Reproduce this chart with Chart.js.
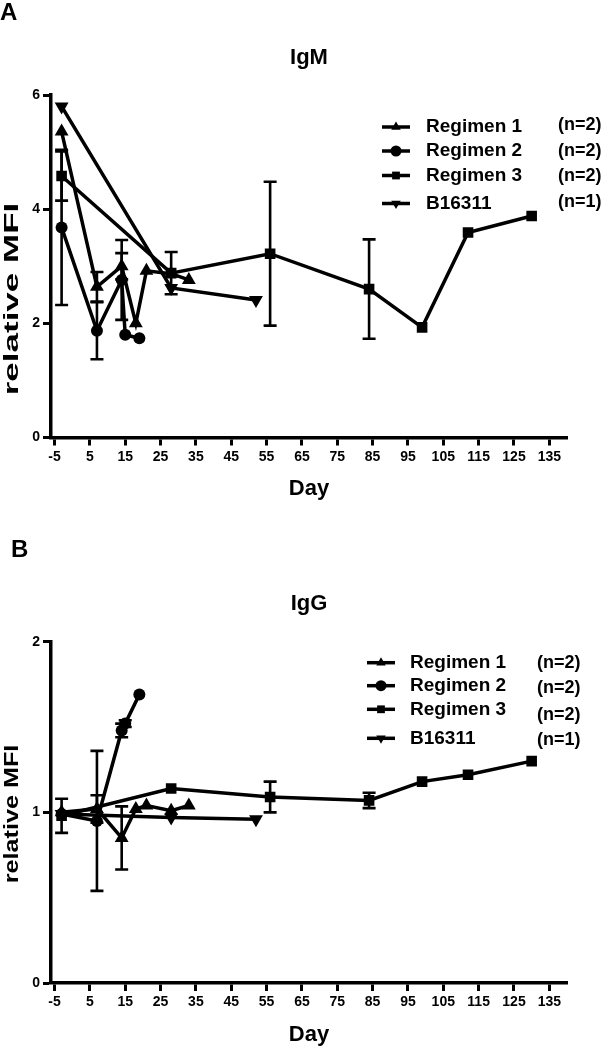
<!DOCTYPE html>
<html>
<head>
<meta charset="utf-8">
<script src="https://cdn.jsdelivr.net/npm/chart.js@4.4.0/dist/chart.umd.min.js"></script>
<style>
  body { margin: 0; background: #fff; }
  #page { position: relative; width: 604px; height: 1050px; font-family: "Liberation Sans", Arial, sans-serif; }
  .panel { position: absolute; font-weight: bold; font-size: 24px; line-height: 1; color: #000; }
  canvas { position: absolute; left: 0; }
</style>
</head>
<body>
<div id="page">
  <canvas id="igmChart" width="604" height="520" style="top:0"></canvas>
  <canvas id="iggChart" width="604" height="530" style="top:520px"></canvas>
  <div class="panel" style="left:0;top:0">A</div>
  <div class="panel" style="left:11px;top:537px">B</div>
</div>
<script>
const FONT = '"Liberation Sans", Arial, sans-serif';

// legend / axis labels
const groups = ['Regimen 1', 'Regimen 2', 'Regimen 3', 'B16311'];
const groupN = ['(n=2)', '(n=2)', '(n=2)', '(n=1)'];
const xTicks = [-5, 5, 15, 25, 35, 45, 55, 65, 75, 85, 95, 105, 115, 125, 135];

// IgM (panel A)
const igmR1Day = [-3, 7, 14, 18, 21, 28, 33];
const igmR1 = [5.36, 2.64, 3.0, 2.0, 2.92, 2.87, 2.76];
const igmR1Err = [0, 0.26, 0.23, 0, 0, 0, 0];
const igmR2Day = [-3, 7, 14, 15, 19];
const igmR2 = [3.68, 1.87, 2.76, 1.80, 1.74];
const igmR2Err = [1.36, 0.5, 0.7, 0, 0];
const igmR3Day = [-3, 28, 56, 84, 99, 112, 130];
const igmR3 = [4.58, 2.88, 3.22, 2.60, 1.93, 3.59, 3.88];
const igmR3Err = [0.43, 0.37, 1.26, 0.87, 0, 0, 0];
const igmB16Day = [-3, 28, 52];
const igmB16 = [5.80, 2.62, 2.41];

// IgG (panel B)
const iggR1Day = [-3, 7, 14, 18, 21, 28, 33];
const iggR1 = [1.0, 1.02, 0.85, 1.02, 1.04, 1.01, 1.04];
const iggR1Err = [0, 0.08, 0.185, 0, 0, 0, 0];
const iggR2Day = [-3, 7, 14, 15, 19];
const iggR2 = [0.99, 0.95, 1.48, 1.52, 1.69];
const iggR2Err = [0, 0.41, 0.04, 0.02, 0];
const iggR3Day = [-3, 28, 56, 84, 99, 112, 130];
const iggR3 = [0.98, 1.14, 1.09, 1.07, 1.18, 1.22, 1.30];
const iggR3Err = [0.1, 0, 0.09, 0.045, 0, 0, 0];
const iggB16Day = [-3, 28, 52];
const iggB16 = [0.99, 0.97, 0.96];

const toPoints = (xs, ys) => xs.map((d, i) => ({ x: d, y: ys[i] }));

const markerStyles = [
    { pointStyle: 'triangle', pointRadius: 8, pointRotation: 0 },
    { pointStyle: 'circle', pointRadius: 6, pointRotation: 0 },
    { pointStyle: 'rect', pointRadius: 7.5, pointRotation: 0 },
    { pointStyle: 'triangle', pointRadius: 8, pointRotation: 180 }
];

function buildDatasets(series) {
    return series.map((s, i) => Object.assign({
        label: groups[i],
        data: toPoints(s[0], s[1]),
        errors: s[2] || [],
        showLine: true,
        borderColor: '#000',
        backgroundColor: '#000',
        borderWidth: 3.5,
        pointBorderWidth: 0,
        pointHoverRadius: 8
    }, markerStyles[i]));
}

// vertical error bars with caps
const errorBarPlugin = {
    id: 'errorBars',
    afterDatasetsDraw(chart) {
        const ctx = chart.ctx;
        const xs = chart.scales.x, ys = chart.scales.y;
        ctx.save();
        ctx.strokeStyle = '#000';
        ctx.lineWidth = 2.6;
        chart.data.datasets.forEach(ds => {
            ds.errors.forEach((e, i) => {
                if (!e) return;
                const p = ds.data[i];
                const px = xs.getPixelForValue(p.x);
                const top = ys.getPixelForValue(p.y + e);
                const bot = ys.getPixelForValue(p.y - e);
                ctx.beginPath();
                ctx.moveTo(px, top); ctx.lineTo(px, bot);
                ctx.moveTo(px - 6.5, top); ctx.lineTo(px + 6.5, top);
                ctx.moveTo(px - 6.5, bot); ctx.lineTo(px + 6.5, bot);
                ctx.stroke();
            });
        });
        ctx.restore();
    }
};

// legend on the right with (n=...) column
const sideLegend = {
    id: 'sideLegend',
    afterDraw(chart, args, opts) {
        const ctx = chart.ctx;
        ctx.save();
        chart.data.datasets.forEach((ds, i) => {
            const y = opts.rows[i];
            ctx.strokeStyle = '#000';
            ctx.fillStyle = '#000';
            ctx.lineWidth = 3.5;
            ctx.beginPath();
            ctx.moveTo(opts.lineX[0], y);
            ctx.lineTo(opts.lineX[1], y);
            ctx.stroke();
            Chart.helpers.drawPoint(ctx, {
                pointStyle: ds.pointStyle,
                rotation: ds.pointRotation,
                radius: 5.5,
                borderWidth: 0
            }, (opts.lineX[0] + opts.lineX[1]) / 2, y);
            ctx.textBaseline = 'middle';
            ctx.textAlign = 'left';
            ctx.font = 'bold 19px ' + FONT;
            ctx.fillText(groups[i], opts.textX, y);
            ctx.font = 'bold 18px ' + FONT;
            ctx.fillText(groupN[i], opts.nX, opts.nRows[i]);
        });
        ctx.restore();
    }
};

// rotated y-axis title, stretched along its length like the source figure
const yTitle = {
    id: 'yTitle',
    afterDraw(chart, args, opts) {
        const ctx = chart.ctx;
        ctx.save();
        ctx.translate(opts.x, opts.y);
        ctx.rotate(-Math.PI / 2);
        ctx.scale(opts.stretch, 1);
        ctx.fillStyle = '#000';
        ctx.font = 'bold ' + opts.size + 'px ' + FONT;
        ctx.textAlign = 'center';
        ctx.textBaseline = 'middle';
        ctx.fillText(opts.text, 0, 0);
        ctx.restore();
    }
};

function makeChart(id, title, series, yMax, yStep, lay) {
    const ctx = document.getElementById(id).getContext('2d');
    return new Chart(ctx, {
        type: 'scatter',
        data: { datasets: buildDatasets(series) },
        options: {
            responsive: false,
            animation: false,
            layout: { padding: { left: 0, right: 37, top: 0, bottom: lay.padBottom } },
            plugins: {
                legend: { display: false },
                tooltip: { enabled: false },
                title: {
                    display: true,
                    text: title,
                    fullSize: false,
                    color: '#000',
                    font: { family: FONT, size: 22, weight: 'bold' },
                    padding: { top: lay.titleTop, bottom: lay.titleBottom }
                },
                sideLegend: lay.legend,
                yTitle: lay.yTitle
            },
            scales: {
                x: {
                    type: 'linear',
                    min: -6,
                    max: 140,
                    afterBuildTicks: scale => {
                        scale.ticks = xTicks.map(v => ({ value: v }));
                    },
                    afterFit: scale => { scale.height = lay.xHeight; },
                    ticks: {
                        color: '#000',
                        padding: 3,
                        maxRotation: 0,
                        autoSkip: false,
                        font: { family: FONT, size: 14, weight: 'bold' }
                    },
                    grid: { drawOnChartArea: false, tickLength: 8, tickWidth: 3, tickColor: '#000' },
                    border: { color: '#000', width: 3.5 },
                    title: {
                        display: true,
                        text: 'Day',
                        color: '#000',
                        padding: { top: 0, bottom: 0 },
                        font: { family: FONT, size: 22, weight: 'bold' }
                    }
                },
                y: {
                    min: 0,
                    max: yMax,
                    afterFit: scale => { scale.width = 51; },
                    ticks: {
                        stepSize: yStep,
                        color: '#000',
                        padding: 3,
                        font: { family: FONT, size: 14, weight: 'bold' }
                    },
                    grid: { drawOnChartArea: false, tickLength: 8, tickWidth: 3, tickColor: '#000' },
                    border: { color: '#000', width: 3.5 }
                }
            }
        },
        plugins: [errorBarPlugin, sideLegend, yTitle]
    });
}

makeChart('igmChart', 'IgM', [
    [igmR1Day, igmR1, igmR1Err],
    [igmR2Day, igmR2, igmR2Err],
    [igmR3Day, igmR3, igmR3Err],
    [igmB16Day, igmB16]
], 6, 2, {
    padBottom: 18,
    titleTop: 45,
    titleBottom: 23.6,
    xHeight: 64.5,
    yTitle: { text: 'relative MFI', x: 12, y: 299, size: 20, stretch: 1.75 },
    legend: {
        lineX: [382, 410], textX: 426, nX: 558,
        rows: [127, 151, 175.5, 203.5],
        nRows: [125, 150.7, 175.7, 202.3]
    }
});

makeChart('iggChart', 'IgG', [
    [iggR1Day, iggR1, iggR1Err],
    [iggR2Day, iggR2, iggR2Err],
    [iggR3Day, iggR3, iggR3Err],
    [iggB16Day, iggB16]
], 2, 1, {
    padBottom: 2,
    titleTop: 71,
    titleBottom: 24.3,
    xHeight: 65,
    yTitle: { text: 'relative MFI', x: 12, y: 294, size: 21, stretch: 1.2 },
    legend: {
        lineX: [367, 395], textX: 410, nX: 537,
        rows: [662.7 - 520, 685.7 - 520, 709.3 - 520, 738.3 - 520],
        nRows: [663.3 - 520, 688.3 - 520, 715 - 520, 740 - 520]
    }
});
</script>
</body>
</html>
